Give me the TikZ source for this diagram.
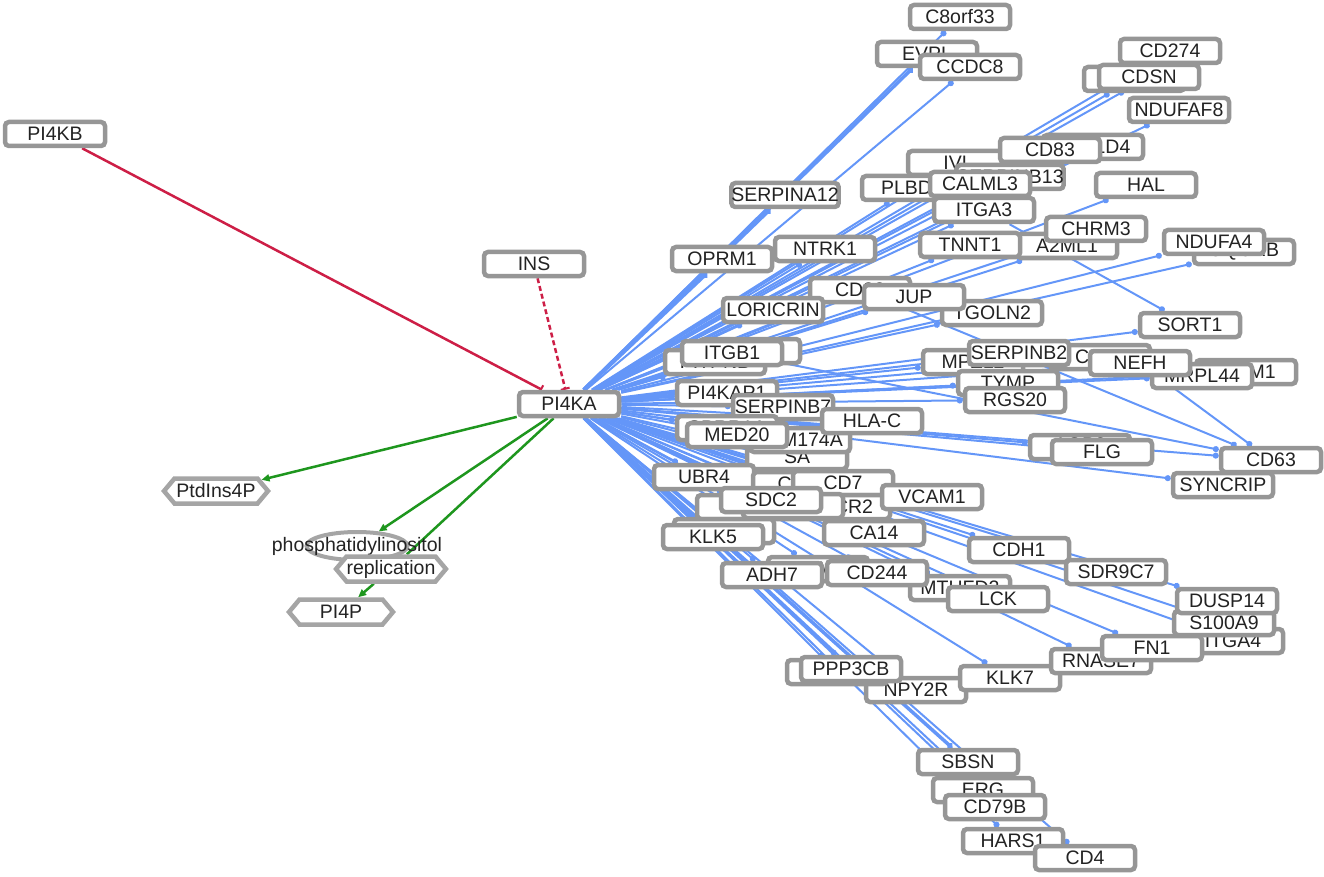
\documentclass[tikz,border=0pt]{standalone}
\usepackage{fontspec}
\setmainfont{Liberation Sans}
\usetikzlibrary{arrows.meta,shapes.geometric,shapes.symbols,backgrounds}

\definecolor{boxgray}{RGB}{150,150,150}
\definecolor{hexgray}{RGB}{165,165,165}
\definecolor{edgeblue}{RGB}{100,150,248}
\definecolor{inhibred}{RGB}{205,30,70}
\definecolor{actgreen}{RGB}{30,150,30}
\definecolor{labelgray}{RGB}{35,35,35}

\tikzset{
  gene/.style={draw=boxgray, line width=4.5pt, fill=white, rounded corners=4pt,
    minimum width=100pt, minimum height=24pt, inner sep=0pt, text=labelgray,
    font=\fontsize{19.5}{22}\selectfont},
  metab/.style={signal, signal to=west and east, signal pointer angle=100,
    draw=hexgray, line width=4.5pt, fill=white, minimum width=104pt,
    minimum height=25pt, inner sep=0pt, text=labelgray,
    font=\fontsize{19.5}{22}\selectfont},
  ppi/.style={draw=edgeblue, line width=2pt, -{Circle[length=6pt]}},
  inhib/.style={draw=inhibred, line width=2.5pt, -{Bar[width=9pt,line width=2pt]}},
  conv/.style={draw=actgreen, line width=2.5pt, -{Triangle[length=8pt,width=7pt]}}
}

\begin{document}
\begin{tikzpicture}[x=1pt,y=-1pt]
\useasboundingbox (0,0) rectangle (1324,877);

\node[gene] (PI4KB) at (55,134) {PI4KB};
\node[gene] (INS) at (534,264) {INS};
\node[gene] (PI4KA) at (569,404) {PI4KA};

\node[metab] (PtdIns4P) at (216,491) {PtdIns4P};
\node[ellipse, draw=hexgray, line width=4pt, fill=white, minimum width=101pt,
  minimum height=28pt, inner sep=0pt, text=labelgray,
  font=\fontsize{19.5}{22}\selectfont] (PtdIns) at (357,546) {\raisebox{-3pt}{\makebox[0pt]{phosphatidylinositol}}};
\node[metab] (replication) at (391,569) {replication};
\node[metab] (PI4P) at (341,612) {PI4P};

% upper targets
\node[gene] (C8orf33) at (960,17) {C8orf33};
\node[gene] (EVPL) at (927,54) {EVPL};
\node[gene] (CCDC8) at (970,67) {CCDC8};
\node[gene] (CD274) at (1170,51) {CD274};
\node[gene] (DSG1) at (1134,79) {DSG1};
\node[gene] (CDSN) at (1149,77) {CDSN};
\node[gene] (NDUFAF8) at (1179,110) {NDUFAF8};
\node[gene] (SERPINA12) at (785,195) {SERPINA12};
\node[gene] (IVL) at (958,163) {IVL};
\node[gene] (PLBD1) at (912,188) {PLBD1};
\node[gene] (SERPINB13) at (1010,177) {SERPINB13};
\node[gene] (TBC1D4) at (1093,147) {TBC1D4};
\node[gene] (CD83) at (1050,150) {CD83};
\node[gene] (CALML3) at (980,184) {CALML3};
\node[gene] (ITGA3) at (984,210) {ITGA3};
\node[gene] (HAL) at (1146,185) {HAL};
\node[gene] (A2ML1) at (1067,246) {A2ML1};
\node[gene] (TNNT1) at (970,245) {TNNT1};
\node[gene] (CHRM3) at (1096,229) {CHRM3};
\node[gene] (UQCRB) at (1244,252) {UQCRB};
\node[gene] (NDUFA4) at (1214,242) {NDUFA4};
\node[gene] (OPRM1) at (722,259) {OPRM1};
\node[gene] (NTRK1) at (825,249) {NTRK1};
\node[gene] (CD82) at (860,290) {CD82};
\node[gene] (TGOLN2) at (992,313) {TGOLN2};
\node[gene] (JUP) at (914,297) {JUP};
\node[gene] (LORICRIN) at (773,310) {LORICRIN};
\node[gene] (SORT1) at (1190,325) {SORT1};

% middle targets
\node[gene] (PITPNB) at (715,362) {PITPNB};
\node[gene] (KRT1) at (750,351) {KRT1};
\node[gene] (ITGB1) at (732,353) {ITGB1};
\node[gene] (MPZL2) at (973,362) {MPZL2};
\node[gene] (TYMP) at (1008,383) {TYMP};
\node[gene] (CD36) at (1100,357) {CD36};
\node[gene] (SERPINB2) at (1019,353) {SERPINB2};
\node[gene] (RGS20) at (1015,400) {RGS20};
\node[gene] (ICAM1) at (1246,372) {ICAM1};
\node[gene] (MRPL44) at (1202,376) {MRPL44};
\node[gene] (NEFH) at (1140,363) {NEFH};
\node[gene] (PI4KAP1) at (727,393) {PI4KAP1};
\node[gene] (SERPINB7) at (783,407) {SERPINB7};
\node[gene] (SPRR1A) at (727,428) {SPRR1A};
\node[gene] (SA) at (797,457) {SA};
\node[gene] (FAM174A) at (800,440) {FAM174A};
\node[gene] (MED20) at (737,435) {MED20};
\node[gene] (HLAC) at (872,421) {HLA-C};
\node[gene] (AQP3) at (1080,447) {AQP3};
\node[gene] (FLG) at (1102,452) {FLG};
\node[gene] (SYNCRIP) at (1223,485) {SYNCRIP};
\node[gene] (CD63) at (1271,460) {CD63};

% lower targets
\node[gene] (UBR4) at (704,477) {UBR4};
\node[gene] (DSC1) at (747,507) {DSC1};
\node[gene] (CSTA) at (803,484) {CSTA};
\node[gene] (CD7) at (843,483) {CD7};
\node[gene] (CXCR2) at (840,507) {CXCR2};
\node[gene] (DSC3) at (793,506) {DSC3};
\node[gene] (SDC2) at (771,500) {SDC2};
\node[gene] (VCAM1) at (932,497) {VCAM1};
\node[gene] (KRT2) at (724,531) {KRT2};
\node[gene] (KLK5) at (713,537) {KLK5};
\node[gene] (TGM1) at (818,569) {TGM1};
\node[gene] (CA14) at (874,533) {CA14};
\node[gene] (ADH7) at (772,575) {ADH7};
\node[gene] (MTHFD2) at (960,588) {MTHFD2};
\node[gene] (CD244) at (877,573) {CD244};
\node[gene] (LCK) at (998,599) {LCK};
\node[gene] (CDH1) at (1019,550) {CDH1};
\node[gene] (SDR9C7) at (1116,572) {SDR9C7};
\node[gene] (ITGA4) at (1233,641) {ITGA4};
\node[gene] (S100A9) at (1224,623) {S100A9};
\node[gene] (DUSP14) at (1227,601) {DUSP14};
\node[gene] (NPY2R) at (916,690) {NPY2R};
\node[gene] (KLK7) at (1010,678) {KLK7};
\node[gene] (RNASE7) at (1101,661) {RNASE7};
\node[gene] (FN1) at (1152,648) {FN1};
\node[gene] (PPP3CA) at (837,672) {PPP3CA};
\node[gene] (PPP3CB) at (851,669) {PPP3CB};
\node[gene] (ERG) at (983,790) {ERG};
\node[gene] (SBSN) at (968,762) {SBSN};
\node[gene] (CD79B) at (995,807) {CD79B};
\node[gene] (HARS1) at (1013,841) {HARS1};
\node[gene] (CD4) at (1085,858) {CD4};

\begin{scope}[on background layer]
\draw[inhib] (PI4KB) -- (PI4KA);
\draw[inhib, dash pattern=on 5pt off 3pt] (INS) -- (PI4KA);
\draw[conv] (PI4KA) -- (PtdIns4P);
\draw[conv] (PI4KA) -- (PtdIns);
\draw[draw=actgreen, line width=2.5pt] (PI4KA) -- (replication);
\draw[conv] (replication) -- (PI4P);

\foreach \t in {C8orf33,CCDC8,CD274,DSG1,CDSN,NDUFAF8,IVL,PLBD1,SERPINB13,
  TBC1D4,CD83,CALML3,ITGA3,HAL,A2ML1,TNNT1,CHRM3,UQCRB,NDUFA4,NTRK1,CD82,
  TGOLN2,JUP,LORICRIN,SORT1,PITPNB,KRT1,ITGB1,MPZL2,TYMP,CD36,SERPINB2,RGS20,
  ICAM1,MRPL44,NEFH,PI4KAP1,SERPINB7,SPRR1A,SA,FAM174A,MED20,HLAC,AQP3,FLG,
  SYNCRIP,CD63,UBR4,DSC1,CSTA,CD7,CXCR2,DSC3,SDC2,VCAM1,KRT2,KLK5,TGM1,CA14,
  ADH7,MTHFD2,CD244,LCK,CDH1,SDR9C7,ITGA4,S100A9,DUSP14,NPY2R,KLK7,RNASE7,FN1,
  PPP3CA,PPP3CB,ERG,CD79B,HARS1,CD4}
  \draw[ppi] (PI4KA) -- (\t);
\foreach \t in {EVPL,SERPINA12,OPRM1,SBSN}
  \draw[ppi, line width=3.5pt] (PI4KA) -- (\t);

\draw[ppi] (ITGA3) -- (SORT1);
\draw[ppi] (CD82) -- (CD63);
\draw[ppi] (ITGB1) -- (CD63);
\draw[ppi] (NEFH) -- (CD63);
\end{scope}
\end{tikzpicture}
\end{document}
